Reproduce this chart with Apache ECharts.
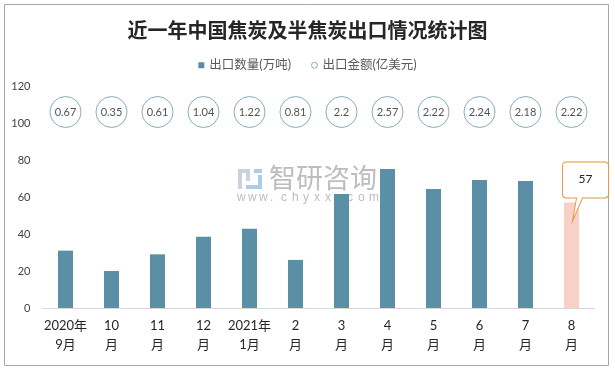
<!DOCTYPE html>
<html>
<head>
<meta charset="utf-8">
<script src="https://cdn.jsdelivr.net/npm/echarts@6/dist/echarts.min.js"></script>
<style>html,body{margin:0;padding:0;background:#fff;}#c{width:615px;height:371px;}</style>
</head>
<body>
<div id="c"></div>
<script>
// ---- data ----
const categories = ['2020年\n9月', '10\n月', '11\n月', '12\n月', '2021年\n1月', '2\n月', '3\n月', '4\n月', '5\n月', '6\n月', '7\n月', '8\n月'];
const exportVolume = [31, 20, 29, 38.5, 42.8, 26, 61.6, 75.2, 64.3, 69.2, 68.6, 57];   // 万吨
const exportValue = [0.67, 0.35, 0.61, 1.04, 1.22, 0.81, 2.2, 2.57, 2.22, 2.24, 2.18, 2.22]; // 亿美元
const yTicks = { min: 0, max: 120, interval: 20 };
const seriesNames = ['出口数量(万吨)', '出口金额(亿美元)'];

const FONT = "Lato, 'Noto Sans CJK SC', sans-serif";
const BAR = '#5b8fa6';
const HILITE = '#f8d0c5';
const lastIdx = exportVolume.length - 1;

const chart = echarts.init(document.getElementById('c'), null, { renderer: 'canvas' });

const wmChars = 'www.chyxx.com'.split('');
const graphics = [
  { type: 'rect', z: 0, silent: true, shape: { x: 4.5, y: 4.5, width: 604, height: 361 },
    style: { fill: 'none', stroke: '#a6a6a6', lineWidth: 1 } },
  // watermark logo
  { type: 'rect', z: 0, silent: true, shape: { x: 238, y: 169, width: 12, height: 4 }, style: { fill: '#c9d2e0' } },
  { type: 'rect', z: 0, silent: true, shape: { x: 238, y: 169, width: 4, height: 20 }, style: { fill: '#c9d2e0' } },
  { type: 'rect', z: 0, silent: true, shape: { x: 246, y: 169, width: 4, height: 12 }, style: { fill: '#c9d2e0' } },
  { type: 'rect', z: 0, silent: true, shape: { x: 254, y: 169, width: 8, height: 4 }, style: { fill: '#a9cdea' } },
  { type: 'rect', z: 0, silent: true, shape: { x: 258, y: 175, width: 4, height: 14 }, style: { fill: '#a9cdea' } },
  { type: 'rect', z: 0, silent: true, shape: { x: 246, y: 185, width: 16, height: 4 }, style: { fill: '#a9cdea' } },
  { type: 'text', z: 0, silent: true, left: 269, top: 164,
    style: { text: '智研咨询', font: "27px 'Noto Sans CJK SC'", fill: '#bdbdbd' } }
];
wmChars.forEach((ch, i) => {
  graphics.push({ type: 'text', z: 0, silent: true, left: 237 + i * 11, top: 192,
    style: { text: ch, font: "12px 'Liberation Sans'", fill: '#bdbdbd' } });
});

const option = {
  animation: false,
  backgroundColor: '#fff',
  title: {
    text: '近一年中国焦炭及半焦炭出口情况统计图',
    left: 'center', top: 15,
    textStyle: { fontFamily: "'Noto Sans CJK SC'", fontSize: 20, fontWeight: 'bold', color: '#262626' }
  },
  legend: {
    top: 54, left: 'center',
    itemWidth: 6, itemHeight: 6, itemGap: 20,
    textStyle: { fontFamily: FONT, fontSize: 12.5, color: '#595959' },
    data: [
      { name: seriesNames[0], icon: 'rect' },
      { name: seriesNames[1], icon: 'circle', itemStyle: { color: '#fff', borderColor: '#6a97ad', borderWidth: 1 } }
    ]
  },
  graphic: graphics,
  grid: { left: 42.5, right: 20.5, top: 86, bottom: 63, containLabel: false },
  xAxis: {
    type: 'category',
    data: categories,
    axisLine: { lineStyle: { color: '#d9d9d9' } },
    axisTick: { show: false },
    axisLabel: { interval: 0, margin: 8, fontFamily: FONT, fontSize: 13, lineHeight: 19, color: '#262626' }
  },
  yAxis: {
    type: 'value', min: yTicks.min, max: yTicks.max, interval: yTicks.interval,
    axisLine: { show: false }, axisTick: { show: false },
    splitLine: { show: false },
    axisLabel: { margin: 12, fontFamily: FONT, fontSize: 11, color: '#404040' }
  },
  singleAxis: {
    type: 'category', data: categories,
    left: 42.5, right: 20.5, top: 100, height: 24,
    axisLine: { show: false }, axisTick: { show: false }, axisLabel: { show: false },
    splitLine: { show: false }
  },
  series: [
    {
      name: seriesNames[0], type: 'bar', barWidth: 15,
      itemStyle: { color: BAR },
      data: exportVolume.map((v, i) => i === lastIdx ? { value: v, itemStyle: { color: HILITE } } : v),
      markPoint: {
        silent: true,
        symbol: 'path://M4,0 L42,0 Q46,0 46,4 L46,32 Q46,36 42,36 L20,36 L10,59 L14,36 L4,36 Q0,36 0,32 L0,4 Q0,0 4,0 Z',
        symbolSize: [46, 59],
        symbolOffset: [14, -11],
        itemStyle: { color: '#fff', borderColor: '#e8913a', borderWidth: 1 },
        label: { show: true, position: 'inside', offset: [0, -12], formatter: '{c}', fontFamily: FONT, fontSize: 12, color: '#262626' },
        data: [{ coord: [lastIdx, exportVolume[lastIdx]], value: exportVolume[lastIdx] }]
      }
    },
    {
      name: seriesNames[1], type: 'scatter', coordinateSystem: 'singleAxis',
      symbol: 'circle', symbolSize: 31,
      itemStyle: { color: '#fff', borderColor: '#6a97ad', borderWidth: 1 },
      label: { show: true, position: 'inside', formatter: p => p.value[1], fontFamily: FONT, fontSize: 11, color: '#262626' },
      data: exportValue.map((v, i) => [i, v])
    }
  ]
};
chart.setOption(option);
</script>
</body>
</html>
